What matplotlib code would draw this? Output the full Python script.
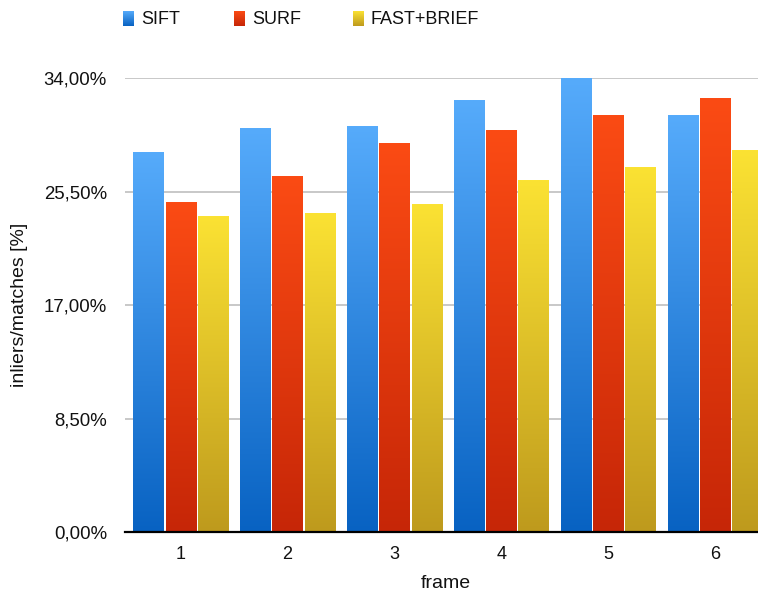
import numpy as np
import matplotlib.pyplot as plt
from matplotlib.colors import LinearSegmentedColormap

plt.rcParams['font.family'] = ['Liberation Sans', 'DejaVu Sans']

frames = ["1", "2", "3", "4", "5", "6"]
series_names = ["SIFT", "SURF", "FAST+BRIEF"]
sift = [28.4, 30.2, 30.35, 32.3, 33.95, 31.2]
surf = [24.65, 26.6, 29.1, 30.05, 31.2, 32.45]
fast = [23.6, 23.85, 24.5, 26.3, 27.3, 28.55]
yticks = [0, 8.5, 17, 25.5, 34]
ytick_labels = ["0,00%", "8,50%", "17,00%", "25,50%", "34,00%"]

# bottom colour, top colour of each series' vertical gradient
gradients = {
    "SIFT": ("#0862C2", "#56ABFB"),
    "SURF": ("#C62607", "#FB4B14"),
    "FAST+BRIEF": ("#BE9A1D", "#FBE233"),
}

W, H = 758, 597
fig = plt.figure(figsize=(W / 100, H / 100), dpi=100)
ax = fig.add_axes([125 / W, (H - 532.3) / H, 646 / W, 454 / H])

grad = np.linspace(0, 1, 256).reshape(-1, 1)
x = np.arange(1, len(frames) + 1)
width = 0.3
inset = 0.009  # thin white gap between neighbouring bars
for i, (name, vals) in enumerate(zip(series_names, [sift, surf, fast])):
    lo, hi = gradients[name]
    cmap = LinearSegmentedColormap.from_list(name, [lo, hi])
    bars = ax.bar(x + (i - 1) * width, vals, width, facecolor='none',
                  edgecolor='none', zorder=3)
    for b in bars:
        x0, y0 = b.get_x(), b.get_y()
        w, h = b.get_width(), b.get_height()
        ax.imshow(grad, cmap=cmap, origin='lower', aspect='auto',
                  extent=[x0 + inset, x0 + w - inset, y0, y0 + h], zorder=2,
                  interpolation='bilinear')

ax.set_xlim(0.48, 6.52)
ax.set_ylim(0, 34)
ax.set_xticks(x)
ax.set_xticklabels(frames)
ax.set_yticks(yticks)
ax.set_yticklabels(ytick_labels)
ax.tick_params(length=0, colors='#111111')
ax.tick_params(axis='y', pad=13, labelsize=13.4)
ax.tick_params(axis='x', pad=10, labelsize=13)
ax.yaxis.grid(True, color='#c4c4c4', linewidth=1.3)
ax.set_axisbelow(True)
for s in ['left', 'right', 'top']:
    ax.spines[s].set_visible(False)
ax.spines['bottom'].set_color('black')
ax.spines['bottom'].set_linewidth(1.6)
ax.spines['bottom'].set_zorder(4)

fig.text(20 / W, 1 - 305 / H, "inliers/matches [%]", rotation=90,
         ha='center', va='center', fontsize=14, color='#111111')
fig.text(446 / W, 1 - 583 / H, "frame", ha='center', va='center',
         fontsize=14, color='#111111')

# legend: gradient swatches with labels
legend_x = [123, 234, 353]
for name, lx in zip(series_names, legend_x):
    lo, hi = gradients[name]
    cmap = LinearSegmentedColormap.from_list(name + "_leg", [lo, hi])
    sax = fig.add_axes([lx / W, 1 - 26 / H, 11 / W, 15 / H])
    sax.imshow(grad, cmap=cmap, origin='lower', aspect='auto')
    sax.axis('off')
    fig.text((lx + 18) / W, 1 - 19 / H, name, ha='left', va='center',
             fontsize=13, color='#111111')

fig.savefig("out.png", dpi=100)
